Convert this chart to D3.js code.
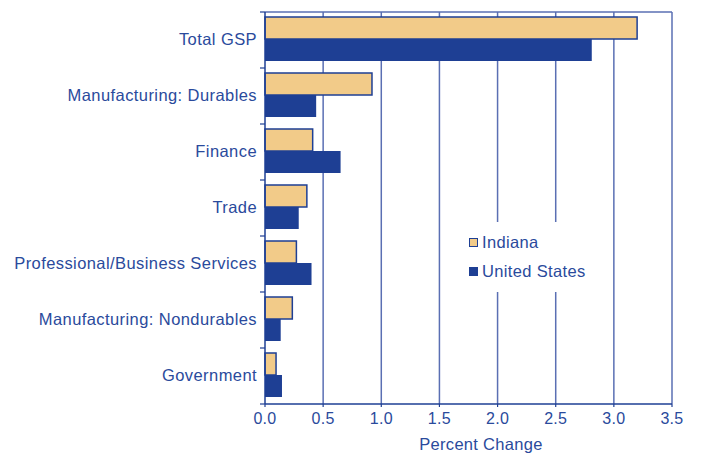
<!DOCTYPE html>
<html>
<head>
<meta charset="utf-8">
<script src="https://cdn.jsdelivr.net/npm/d3@7"></script>
<style>
  html, body { margin: 0; padding: 0; background: #fff; }
  svg { display: block; }
  text { font-family: "Liberation Sans", Arial, Helvetica, sans-serif; fill: #2a4a9c; }
</style>
</head>
<body>
<svg id="chart" width="701" height="453"></svg>
<script>
const categories = [
  "Total GSP",
  "Manufacturing: Durables",
  "Finance",
  "Trade",
  "Professional/Business Services",
  "Manufacturing: Nondurables",
  "Government"
];
const seriesNames = ["Indiana", "United States"];
const indiana = [3.20, 0.92, 0.41, 0.36, 0.27, 0.235, 0.095];
const unitedStates = [2.81, 0.44, 0.65, 0.29, 0.40, 0.135, 0.146];
const xTicks = [0, 0.5, 1.0, 1.5, 2.0, 2.5, 3.0, 3.5];
const axisTitle = "Percent Change";

const colors = { "Indiana": "#f2cb89", "United States": "#1e3f94" };
const gridColor = "#5a6fb3";

const svg = d3.select("#chart");
const mLeft = 265, mRight = 672, mTop = 12, mBottom = 404;

const x = d3.scaleLinear().domain([0, 3.5]).range([mLeft, mRight]);
const y = d3.scaleBand().domain(categories).range([mTop, mBottom]).padding(0);
const inner = d3.scaleBand().domain(seriesNames).range([5, y.bandwidth() - 7]).padding(0);

// gridlines
svg.append("g").selectAll("line").data(xTicks.slice(1)).join("line")
  .attr("x1", d => x(d)).attr("x2", d => x(d))
  .attr("y1", mTop).attr("y2", mBottom)
  .attr("stroke", gridColor).attr("stroke-width", 1.5);
// top frame line
svg.append("line").attr("x1", mLeft).attr("x2", mRight).attr("y1", mTop).attr("y2", mTop)
  .attr("stroke", gridColor).attr("stroke-width", 1.5);

// bars
const data = categories.map((c, i) => ({ cat: c, vals: [
  { name: "Indiana", v: indiana[i] },
  { name: "United States", v: unitedStates[i] }
]}));

const groups = svg.append("g").selectAll("g").data(data).join("g")
  .attr("transform", d => `translate(0,${y(d.cat)})`);
groups.selectAll("rect").data(d => d.vals).join("rect")
  .attr("x", x(0))
  .attr("y", d => inner(d.name))
  .attr("width", d => x(d.v) - x(0))
  .attr("height", inner.bandwidth())
  .attr("fill", d => colors[d.name])
  .attr("stroke", "#1e3f94")
  .attr("stroke-width", d => d.name === "Indiana" ? 1.5 : 0);

// legend (white box over gridlines)
const lg = svg.append("g");
lg.append("rect").attr("x", 458).attr("y", 222).attr("width", 142).attr("height", 70).attr("fill", "#fff");
seriesNames.forEach((s, i) => {
  const yy = 238 + i * 29;
  lg.append("rect").attr("x", 469.5).attr("y", yy + 0.5).attr("width", 8).attr("height", 8)
    .attr("fill", colors[s]).attr("stroke", "#1e3f94").attr("stroke-width", 1);
  lg.append("text").attr("x", 482).attr("y", yy + 10)
    .attr("font-size", "16.5px").style("letter-spacing", "0.35px").text(s);
});

// y axis
const yAxisG = svg.append("g").attr("transform", `translate(${mLeft},0)`);
yAxisG.append("line").attr("x1", 0).attr("x2", 0).attr("y1", mTop).attr("y2", mBottom)
  .attr("stroke", "#1e3f94").attr("stroke-width", 1.5);
const bounds = categories.map(c => y(c)).concat([mBottom]);
yAxisG.selectAll("line.tk").data(bounds).join("line").attr("class", "tk")
  .attr("x1", -5).attr("x2", 0).attr("y1", d => d).attr("y2", d => d)
  .attr("stroke", "#1e3f94").attr("stroke-width", 1.2);
yAxisG.selectAll("text").data(categories).join("text")
  .attr("x", -8).attr("y", d => y(d) + y.bandwidth() / 2 - 1)
  .attr("dy", "0.35em").attr("text-anchor", "end")
  .attr("font-size", "16.5px").style("letter-spacing", "0.42px")
  .text(d => d);

// x axis
const xAxisG = svg.append("g").attr("transform", `translate(0,${mBottom})`);
xAxisG.append("line").attr("x1", mLeft).attr("x2", mRight).attr("y1", 0).attr("y2", 0)
  .attr("stroke", "#1e3f94").attr("stroke-width", 1.5);
xAxisG.selectAll("line.tk").data(xTicks).join("line").attr("class", "tk")
  .attr("x1", d => x(d)).attr("x2", d => x(d)).attr("y1", 0).attr("y2", 3)
  .attr("stroke", "#1e3f94").attr("stroke-width", 1.2);
xAxisG.selectAll("text").data(xTicks).join("text")
  .attr("x", d => x(d)).attr("y", 20)
  .attr("text-anchor", "middle").attr("font-size", "16px").style("letter-spacing", "0.3px")
  .text(d => d3.format(".1f")(d));

svg.append("text").attr("x", 481).attr("y", 450).attr("text-anchor", "middle")
  .attr("font-size", "16.5px").style("letter-spacing", "0.3px").text(axisTitle);
</script>
</body>
</html>
